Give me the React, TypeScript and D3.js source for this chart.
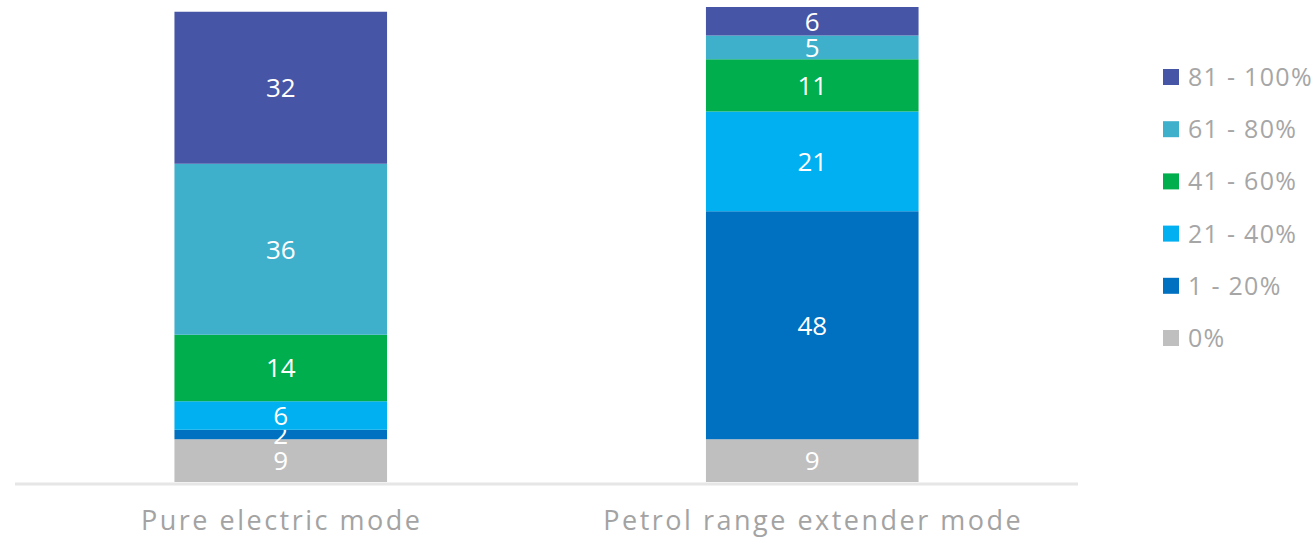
import React from "react";
import * as d3 from "d3";

const categories = ["Pure electric mode", "Petrol range extender mode"];
const seriesNames = ["0%", "1 - 20%", "21 - 40%", "41 - 60%", "61 - 80%", "81 - 100%"];
const seriesColors = ["#BFBFBF", "#0070C0", "#00B0F0", "#00AE4D", "#3FB0CC", "#4755A6"];
const pureElectric = [9, 2, 6, 14, 36, 32];
const petrolExtender = [9, 48, 21, 11, 5, 6];
const values = [pureElectric, petrolExtender];

const W = 1314;
const H = 539;

export default function App() {
  const x = d3.scaleBand<string>().domain(categories).range([15, 1078]).paddingInner(0.6).paddingOuter(0.3);
  const y = d3.scaleLinear().domain([0, 100]).range([482, 7]);
  const stackData = categories.map((c, i) => {
    const o: any = { cat: c };
    seriesNames.forEach((s, j) => (o[s] = values[i][j]));
    return o;
  });
  const stacked = d3.stack<any>().keys(seriesNames)(stackData);
  const font = "'Open Sans', 'DejaVu Sans', sans-serif";
  return (
    <svg width={W} height={H} style={{ position: "absolute", left: 0, top: 0 }}>
      <rect width={W} height={H} fill="#fff" />
      {stacked.map((layer, j) => (
        <g key={layer.key}>
          {layer.map((d: any, i: number) => {
            const x0 = x(categories[i])!;
            const y0 = y(d[1]);
            const h = y(d[0]) - y(d[1]);
            return (
              <g key={i}>
                <rect x={x0} y={y0} width={x.bandwidth()} height={h} fill={seriesColors[j]} />
                <text
                  x={x0 + x.bandwidth() / 2}
                  y={y0 + h / 2}
                  dy="0.36em"
                  textAnchor="middle"
                  fill="#fff"
                  fontFamily={font}
                  fontSize={26}
                >
                  {d[1] - d[0]}
                </text>
              </g>
            );
          })}
        </g>
      ))}
      <line x1={15} x2={1078} y1={484} y2={484} stroke="#E6E6E6" strokeWidth={3} />
      {categories.map((c) => (
        <text
          key={c}
          x={x(c)! + x.bandwidth() / 2 + 1}
          y={530}
          textAnchor="middle"
          fill="#A3A3A3"
          fontFamily={font}
          fontSize={27}
          letterSpacing={2.5}
        >
          {c}
        </text>
      ))}
      {seriesNames
        .slice()
        .reverse()
        .map((s, k) => {
          const j = seriesNames.length - 1 - k;
          const cy = 77 + k * 52.2;
          return (
            <g key={s}>
              <rect x={1163} y={cy - 8} width={16} height={16} fill={seriesColors[j]} />
              <text x={1188} y={cy} dy="0.36em" fill="#A6A6A6" fontFamily={font} fontSize={25} letterSpacing={1.3}>
                {s}
              </text>
            </g>
          );
        })}
    </svg>
  );
}
